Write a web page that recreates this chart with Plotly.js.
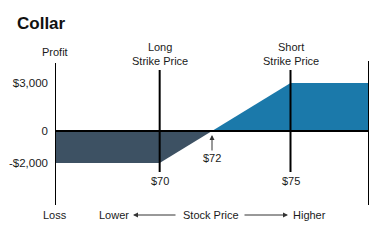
<!DOCTYPE html>
<html>
<head>
<meta charset="utf-8">
<script src="https://cdn.plot.ly/plotly-3.0.1.min.js"></script>
<style>html,body{margin:0;padding:0;background:#fff;}#chart{width:385px;height:241px;}</style>
</head>
<body>
<div id="chart"></div>
<script>
// ---- data ----
var priceX = [66, 70, 72, 75, 78];
var profit = [-2000, -2000, 0, 3000, 3000];
var longStrike = 70;
var shortStrike = 75;
var breakeven = 72;
var yTickVals = [3000, 0, -2000];
var yTickText = ['$3,000', '0', '-$2,000'];

// ---- helpers (pixel -> axis / paper units, for label placement only) ----
var W = 385, H = 241, L = 55, R = 16, T = 61, B = 36;
var xMin = 66, xMax = 78, yTop = 4375, yBot = -4625;
function py(p){ return yTop - (p - T) * (yTop - yBot) / (H - T - B); }
function ppx(p){ return (p - L) / (W - L - R); }
function ppy(p){ return (H - B - p) / (H - T - B); }
function pxOf(v){ return L + (v - xMin) / (xMax - xMin) * (W - L - R); }

var negX = [], negY = [], posX = [], posY = [];
for (var i = 0; i < priceX.length; i++) {
  if (profit[i] <= 0) { negX.push(priceX[i]); negY.push(profit[i]); }
  if (profit[i] >= 0) { posX.push(priceX[i]); posY.push(profit[i]); }
}

var FONT = 'Liberation Sans, Arial, sans-serif';
var TXT = '#1a1a1a';

var traces = [
  {x: negX, y: negY, type: 'scatter', mode: 'lines', fill: 'tozeroy',
   fillcolor: '#3d5163', line: {width: 0, color: '#3d5163'}, hoverinfo: 'skip'},
  {x: posX, y: posY, type: 'scatter', mode: 'lines', fill: 'tozeroy',
   fillcolor: '#1b79aa', line: {width: 0, color: '#1b79aa'}, hoverinfo: 'skip'}
];

var lineStyle = {color: '#000', width: 2};
var shapes = [
  {type: 'line', xref: 'x', yref: 'y', x0: xMin, x1: xMin, y0: py(63), y1: yBot, line: lineStyle},
  {type: 'line', xref: 'x', yref: 'y', x0: xMax, x1: xMax, y0: py(61), y1: yBot, line: lineStyle},
  {type: 'line', xref: 'x', yref: 'y', x0: longStrike, x1: longStrike, y0: py(70), y1: py(172), line: lineStyle},
  {type: 'line', xref: 'x', yref: 'y', x0: shortStrike, x1: shortStrike, y0: py(70), y1: py(172), line: lineStyle},
  {type: 'line', xref: 'x', yref: 'y', x0: xMin, x1: xMax, y0: 0, y1: 0, line: lineStyle}
];

function lab(xPix, yPix, text){
  return {x: ppx(xPix), y: ppy(yPix), xref: 'paper', yref: 'paper', text: text, showarrow: false,
          font: {family: FONT, size: 11, color: TXT}, xanchor: 'center', yanchor: 'middle'};
}
function arr(headPix, tailOffset, yPix){
  return {x: ppx(headPix), y: ppy(yPix), xref: 'paper', yref: 'paper', text: '', showarrow: true,
          ax: tailOffset, ay: 0, arrowhead: 2, arrowsize: 1, arrowwidth: 1, arrowcolor: '#333'};
}

var annotations = [
  lab(pxOf(xMin), 52, 'Profit'),
  lab(pxOf(longStrike), 54, 'Long<br>Strike Price'),
  lab(pxOf(shortStrike), 54, 'Short<br>Strike Price'),
  lab(pxOf(longStrike), 181, '$' + longStrike),
  lab(pxOf(shortStrike), 181, '$' + shortStrike),
  {x: breakeven, y: 0, xref: 'x', yref: 'y', text: '$' + breakeven, showarrow: true,
   ax: 0, ay: 27, arrowhead: 2, arrowsize: 1, arrowwidth: 1, arrowcolor: '#333', standoff: 4,
   font: {family: FONT, size: 11, color: TXT}},
  lab(pxOf(xMin), 215, 'Loss'),
  lab(113.5, 215, 'Lower'),
  lab(210.5, 215, 'Stock Price'),
  lab(309, 215, 'Higher'),
  arr(133, 44, 215),
  arr(288, -45, 215)
];

var layout = {
  width: W, height: H,
  margin: {l: L, r: R, t: T, b: B, pad: 0},
  paper_bgcolor: '#fff', plot_bgcolor: '#fff',
  showlegend: false,
  title: {text: 'Collar', font: {family: FONT, size: 17, weight: 700, color: '#111'},
          x: 17 / W, xanchor: 'left', xref: 'container',
          y: 1 - 23 / H, yanchor: 'middle', yref: 'container'},
  xaxis: {range: [xMin, xMax], showgrid: false, zeroline: false, showline: false,
          showticklabels: false, ticks: '', fixedrange: true},
  yaxis: {range: [yBot, yTop], showgrid: false, zeroline: false, showline: false,
          tickmode: 'array', tickvals: yTickVals, ticktext: yTickText, ticks: '',
          ticklabelstandoff: 6, tickfont: {family: FONT, size: 11.5, color: TXT}, fixedrange: true},
  shapes: shapes,
  annotations: annotations
};

Plotly.newPlot('chart', traces, layout, {staticPlot: true, displayModeBar: false});
</script>
</body>
</html>
